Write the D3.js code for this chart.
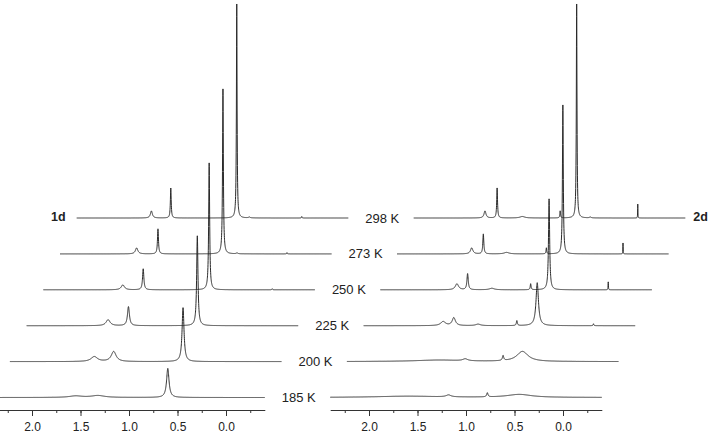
<!DOCTYPE html>
<html>
<head>
<meta charset="utf-8">
<script src="https://cdn.jsdelivr.net/npm/d3@7"></script>
<style>
  body { margin: 0; background: #fff; }
  svg { display: block; font-family: Arial, "Liberation Sans", sans-serif; }
</style>
</head>
<body>
<svg id="chart" width="711" height="434"></svg>
<script>
// Temperatures, bottom row first
const temps = ["185 K", "200 K", "225 K", "250 K", "273 K", "298 K"];
const tickValues = [2.0, 1.5, 1.0, 0.5, 0.0];
const minorTicks = [2.25, 2.0, 1.75, 1.5, 1.25, 1.0, 0.75, 0.5, 0.25, 0.0, -0.25];

// Peaks: [ppm in the row's own frame, intensity (tallest = 100), half width in ppm]
const peaks1d = [
    [[1.55, 0.7, 0.08], [1.32, 0.9, 0.08], [0.60, 13.6, 0.015]],
    [[1.53, 2.3, 0.04], [1.33, 4.7, 0.03], [0.615, 25.2, 0.012]],
    [[1.56, 2.8, 0.025], [1.35, 8.9, 0.012], [0.64, 42, 0.008]],
    [[1.58, 2.3, 0.02], [1.37, 9.8, 0.008], [0.69, 59.3, 0.006], [0.04, 0.5, 0.004]],
    [[1.61, 2.8, 0.015], [1.39, 11.7, 0.006], [0.72, 77.1, 0.005], [0.575, 0.4, 0.01], [0.06, 0.6, 0.003]],
    [[1.63, 3.3, 0.012], [1.43, 14, 0.005], [0.75, 100, 0.004], [0.62, 0.4, 0.01], [0.08, 0.7, 0.003]]
];
const peaks2d = [
    [[1.6, 0.6, 0.4], [1.18, 0.9, 0.03], [0.78, 1.9, 0.008], [0.45, 1.4, 0.15]],
    [[1.45, 0.7, 0.3], [1.18, 0.9, 0.03], [0.79, 2.3, 0.008], [0.59, 4.7, 0.07]],
    [[1.58, 1.9, 0.03], [1.47, 3.7, 0.02], [1.22, 0.7, 0.03], [0.82, 2.3, 0.006], [0.61, 20.1, 0.015], [0.03, 0.9, 0.004]],
    [[1.61, 2.8, 0.02], [1.50, 7.5, 0.008], [1.25, 0.7, 0.03], [0.85, 2.8, 0.005], [0.66, 42.5, 0.007], [0.05, 3.7, 0.002]],
    [[1.63, 2.8, 0.015], [1.51, 9.3, 0.006], [1.27, 0.7, 0.03], [0.86, 2.8, 0.004], [0.69, 69.6, 0.005], [0.07, 5.1, 0.0015]],
    [[1.665, 3.3, 0.012], [1.54, 14, 0.005], [1.28, 0.7, 0.03], [0.89, 3.3, 0.004], [0.72, 100, 0.004], [0.58, 0.4, 0.01], [0.09, 6.5, 0.0015]]
];

const ppmDomain = [2.4, -0.4];
const baseY = 397.5;   // baseline of the bottom row
const stepY = 35.9;    // vertical stacking offset
const stepX = 16.7;    // horizontal stacking offset
const axisY = 410;

const svg = d3.select("#chart");
const x = d3.scaleLinear().domain(ppmDomain).range([0, 271.6]);
const y = d3.scaleLinear().domain([0, 100]).range([0, -214]);

// Sum of lorentzians over the ppm range
function spectrum(peaks) {
    const pts = [];
    for (let p = ppmDomain[0]; p >= ppmDomain[1]; p -= 0.001) {
        let v = 0;
        peaks.forEach(([c, h, w]) => {
            const d = p - c;
            v += h * w * w / (w * w + d * d);
        });
        pts.push([p, v]);
    }
    return pts;
}

const line = d3.line().x(d => x(d[0])).y(d => y(d[1]));

function drawPanel(originX, peaksList) {
    const g = svg.append("g").attr("transform", `translate(${originX},0)`);

    peaksList.forEach((peaks, k) => {
        g.append("path")
            .attr("transform", `translate(${stepX * k},${baseY - stepY * k})`)
            .attr("d", line(spectrum(peaks)))
            .attr("fill", "none")
            .attr("stroke", "#2a2a2a")
            .attr("stroke-width", 1);
    });

    // axis
    const ax = g.append("g").attr("transform", `translate(0,${axisY})`);
    ax.call(d3.axisBottom(x).tickValues(tickValues).tickFormat(d3.format(".1f"))
        .tickSize(6).tickSizeOuter(0).tickPadding(6));
    ax.append("g").call(d3.axisBottom(x).tickValues(minorTicks).tickFormat("").tickSize(3).tickSizeOuter(0))
        .select(".domain").remove();
    ax.selectAll("path, line").attr("stroke", "#333");
    ax.selectAll("text").attr("font-size", 12).attr("fill", "#222")
        .attr("font-family", "Arial, 'Liberation Sans', sans-serif");

    return g;
}

const leftPanel = drawPanel(-6.8, peaks1d);
const rightPanel = drawPanel(330.2, peaks2d);

// temperature labels, between the panels
temps.forEach((t, k) => {
    svg.append("text")
        .attr("x", -6.8 + x(ppmDomain[1]) + stepX * k + 17)
        .attr("y", baseY - stepY * k)
        .attr("dominant-baseline", "central")
        .attr("font-size", 13)
        .attr("fill", "#222")
        .text(t);
});

const topRow = temps.length - 1;
leftPanel.append("text")
    .attr("x", x(ppmDomain[0]) + stepX * topRow - 11)
    .attr("y", baseY - stepY * topRow - 1)
    .attr("dominant-baseline", "central")
    .attr("text-anchor", "end")
    .attr("font-size", 12.5)
    .attr("font-weight", "bold")
    .attr("fill", "#222")
    .text("1d");
rightPanel.append("text")
    .attr("x", x(ppmDomain[1]) + stepX * topRow + 8)
    .attr("y", baseY - stepY * topRow - 1)
    .attr("dominant-baseline", "central")
    .attr("font-size", 12.5)
    .attr("font-weight", "bold")
    .attr("fill", "#222")
    .text("2d");
</script>
</body>
</html>
